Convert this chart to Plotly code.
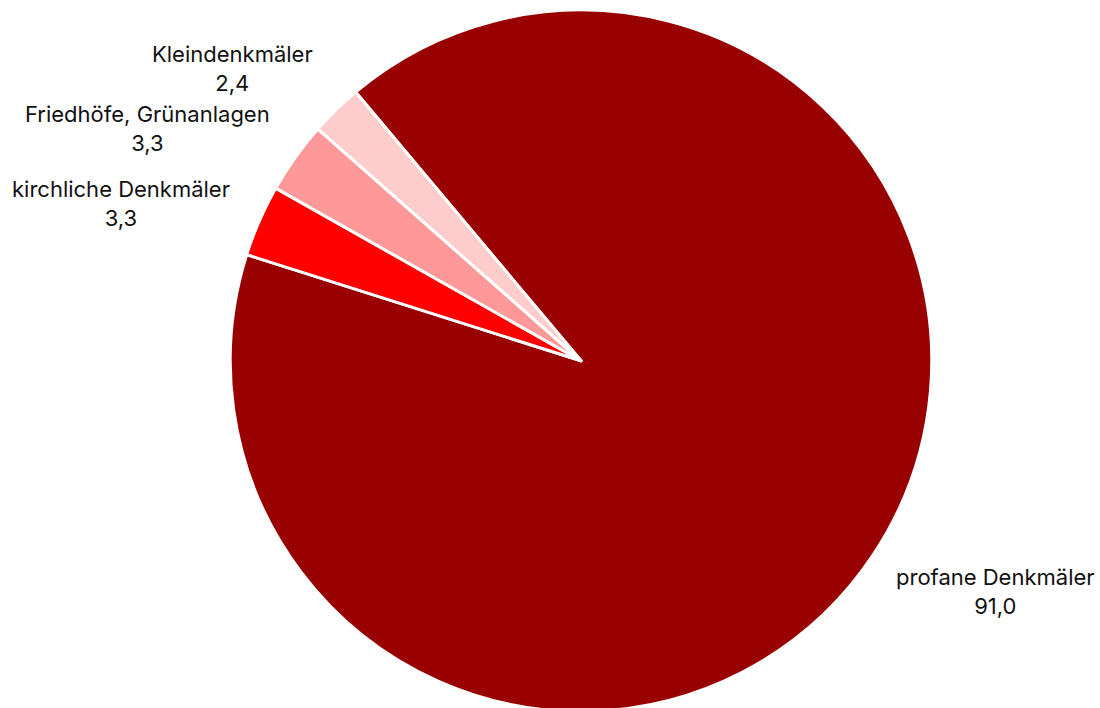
import plotly.graph_objects as go

categories = ["profane Denkmäler", "kirchliche Denkmäler", "Friedhöfe, Grünanlagen", "Kleindenkmäler"]
values = [91.0, 3.3, 3.3, 2.4]

colors = ["#990000", "#FF0000", "#FF9999", "#FFCCCC"]
# label block centres in pixels (x, y)
label_pos = [(996, 591), (121, 203), (147, 128), (232, 68)]

W, H = 1100, 712  # a few px taller than the window; the overflow is hidden
CX = 581  # pie centre x in pixels

def fmt(v):
    return f"{v:.1f}".replace(".", ",")

fig = go.Figure()
fig.add_trace(go.Pie(
    labels=categories,
    values=values,
    sort=False,
    direction="clockwise",
    rotation=-40,
    marker=dict(colors=colors, line=dict(color="white", width=3)),
    textinfo="none",
    hoverinfo="label+value",
    showlegend=False,
    domain=dict(x=[(2 * CX - W) / W, 1.0], y=[1 - 711.5 / H, 1 - 10 / H]),
))

for cat, v, (px, py) in zip(categories, values, label_pos):
    fig.add_annotation(
        x=px / W, y=1 - py / H, xref="paper", yref="paper",
        text=f"{cat}<br>{fmt(v)}", showarrow=False,
        xanchor="center", yanchor="middle", align="center",
        font=dict(family="Inter", size=22, color="#111111"),
    )

fig.update_layout(
    width=W, height=H,
    margin=dict(l=0, r=0, t=0, b=0),
    paper_bgcolor="white", plot_bgcolor="white",
)

fig.write_html(
    "out.html",
    config={"displayModeBar": False},
    post_script="document.body.style.margin='0';document.body.style.overflow='hidden';",
)
